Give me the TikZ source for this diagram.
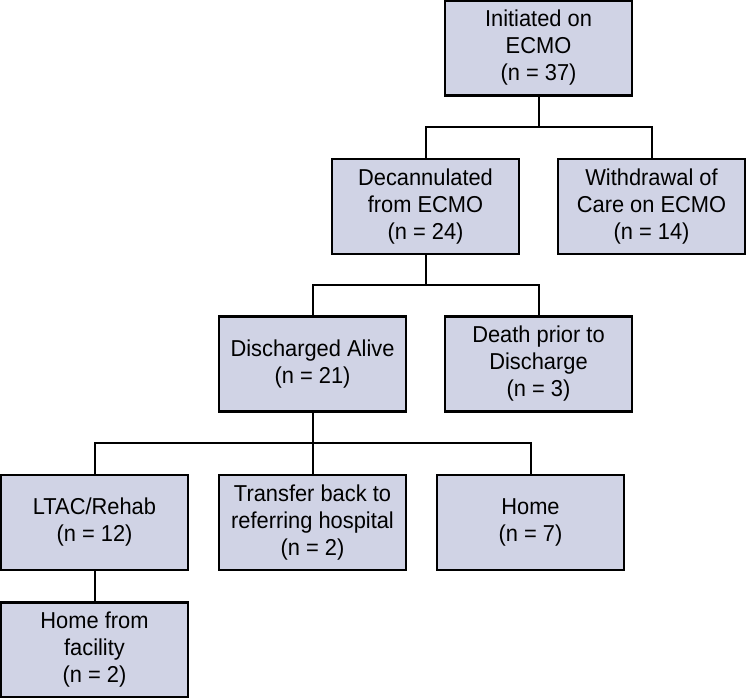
\documentclass[tikz,border=0pt]{standalone}
\usepackage{fontspec}
\setmainfont[FakeStretch=0.95]{Liberation Sans}
\definecolor{boxfill}{RGB}{208,211,229}
\begin{document}
\begin{tikzpicture}[x=0.75pt,y=-0.75pt,
  box/.style={draw=black,line width=1.9pt,fill=boxfill,rectangle,
    minimum width=140.25pt,minimum height=71.25pt,inner sep=0pt,
    align=center,font=\fontsize{17.25}{20.25}\selectfont,
    execute at begin node={\rule{0pt}{17pt}}},
  conn/.style={draw=black,line width=1.5pt}]
\useasboundingbox (0,0) rectangle (746,698);
\node[box] (init)  at (538.5,48)    {Initiated on\\ECMO\\(n = 37)};
\node[box] (decan) at (425.5,206.5) {Decannulated\\from ECMO\\(n = 24)};
\node[box] (withd) at (651.5,206.5) {Withdrawal of\\Care on ECMO\\(n = 14)};
\node[box] (disch) at (312.5,364)   {Discharged Alive\\(n = 21)};
\node[box] (death) at (538.5,364)   {Death prior to\\Discharge\\(n = 3)};
\node[box] (ltac)  at (94.5,522.5)  {LTAC/Rehab\\(n = 12)};
\node[box] (trans) at (312.5,522.5) {Transfer back to\\referring hospital\\(n = 2)};
\node[box] (home)  at (530.5,522.5) {Home\\(n = 7)};
\node[box] (homef) at (94.5,650)    {Home from\\facility\\(n = 2)};
\coordinate (j1) at (538.5,127);
\coordinate (j2) at (425.5,285);
\coordinate (j3) at (312.5,443);
\draw[conn] (init.south) -- (j1);
\draw[conn] (decan.north) |- (j1) -| (withd.north);
\draw[conn] (decan.south) -- (j2);
\draw[conn] (disch.north) |- (j2) -| (death.north);
\draw[conn] (disch.south) -- (j3);
\draw[conn] (ltac.north) |- (j3) -| (home.north);
\draw[conn] (trans.north) -- (j3);
\draw[conn] (ltac.south) -- (homef.north);
\end{tikzpicture}
\end{document}
